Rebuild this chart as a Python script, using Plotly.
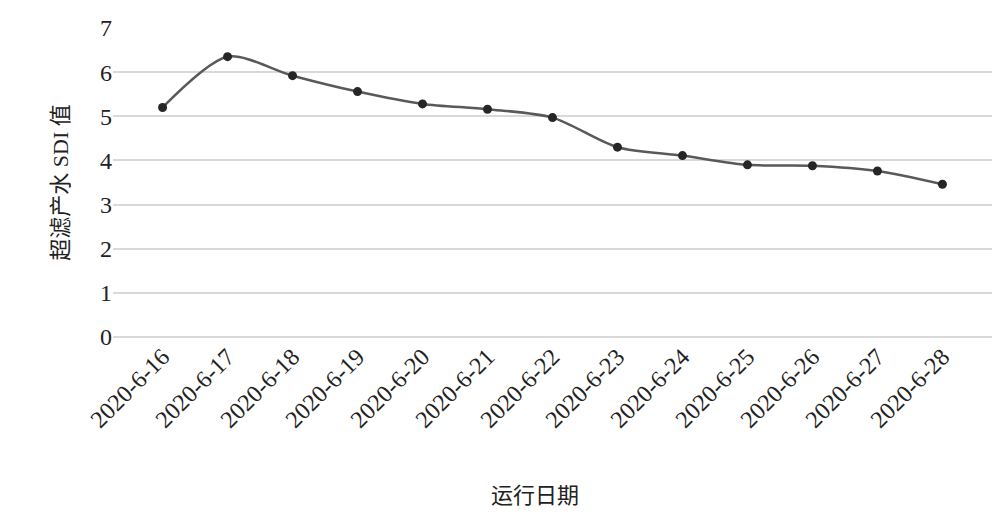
import plotly.graph_objects as go

dates = ["2020-6-16", "2020-6-17", "2020-6-18", "2020-6-19", "2020-6-20", "2020-6-21",
         "2020-6-22", "2020-6-23", "2020-6-24", "2020-6-25", "2020-6-26", "2020-6-27", "2020-6-28"]
sdi = [5.2, 6.35, 5.92, 5.56, 5.28, 5.16, 4.97, 4.3, 4.11, 3.9, 3.88, 3.76, 3.46]

font = "Liberation Serif, Noto Sans CJK SC"

fig = go.Figure(go.Scatter(
    x=dates, y=sdi, mode="lines+markers",
    line=dict(color="#595959", width=2.5, shape="spline", smoothing=0.8),
    marker=dict(color="#262626", size=9),
))

fig.update_layout(
    width=1005, height=524,
    margin=dict(l=105, r=21, t=20, b=195),
    paper_bgcolor="white", plot_bgcolor="white",
    showlegend=False,
    font=dict(family=font, size=22, color="#222"),
)
fig.update_xaxes(
    type="category", tickangle=-45, showgrid=False, showline=False,
    automargin=False, ticklen=8, tickcolor="white",
    tickfont=dict(size=24),
    title=dict(text="运行日期", font=dict(size=22), standoff=20),
)
fig.update_yaxes(
    range=[0, 7], dtick=1, showgrid=True, gridcolor="#d9d9d9", gridwidth=2,
    zeroline=True, zerolinecolor="#d9d9d9", zerolinewidth=2,
    automargin=False, tickfont=dict(size=24),
    title=dict(text="超滤产水 SDI 值", font=dict(size=22), standoff=25),
)
fig.add_annotation(text="运行日期", xref="paper", yref="paper", x=0.48, y=-0.56,
                   showarrow=False, font=dict(size=22))
fig.update_xaxes(title_text="")

fig.write_html("out.html")
